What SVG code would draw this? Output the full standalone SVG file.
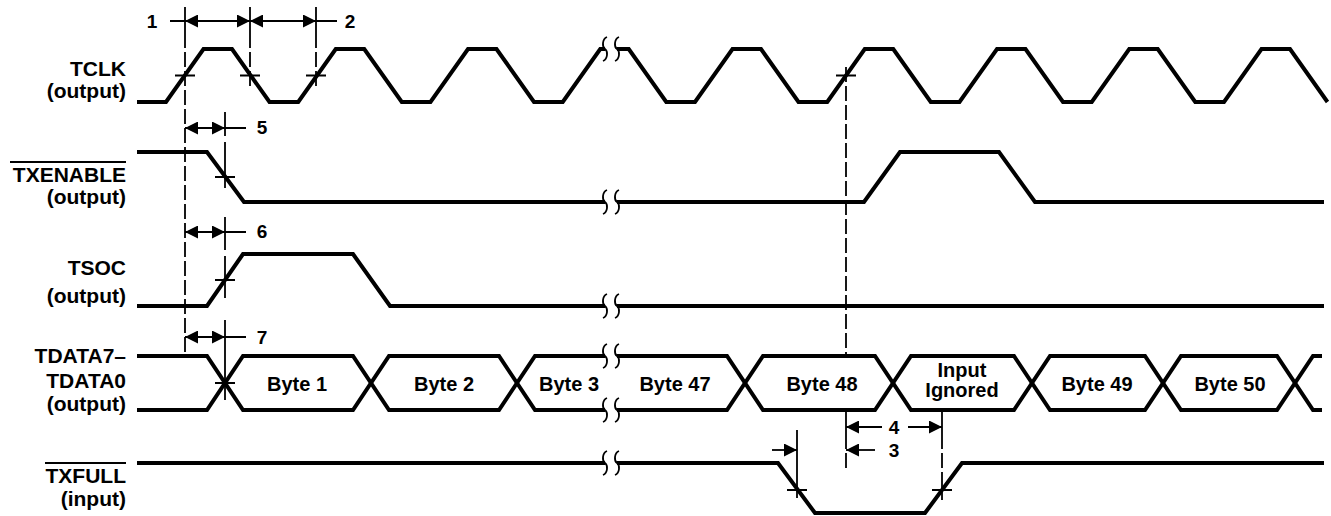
<svg xmlns="http://www.w3.org/2000/svg" width="1331" height="516" viewBox="0 0 1331 516">
<style>
.sig{fill:none;stroke:#000;stroke-width:4;stroke-linejoin:miter}
.ol{stroke:#000;stroke-width:2}
.thin{fill:none;stroke:#000;stroke-width:1.8}
.dash{fill:none;stroke:#000;stroke-width:1.8;stroke-dasharray:15 4}
.dim{fill:none;stroke:#000;stroke-width:1.8;marker-end:url(#ah)}
.dim2{fill:none;stroke:#000;stroke-width:1.8;marker-start:url(#ah);marker-end:url(#ah)}
.lbl{font-family:"Liberation Sans",Arial,Helvetica,sans-serif;font-weight:bold;font-size:21px;fill:#000}
.r{text-anchor:end}
.c{text-anchor:middle}
.byte{font-size:20px}
.num{font-size:19px}
</style>
<defs>
<marker id="ah" viewBox="0 0 13 13" refX="13" refY="6.5" markerWidth="13" markerHeight="13" markerUnits="userSpaceOnUse" orient="auto-start-reverse"><path d="M0,0L13,6.5L0,13Z" fill="#000"/></marker>
<g id="brk"><rect x="-6" y="-5" width="12" height="10" fill="#fff"/><path d="M-4,-12 C-9,-10 -9,-2 -6,0 C-3,2 -3,10 -8,12 M8,-12 C3,-10 3,-2 6,0 C9,2 9,10 4,12" fill="none" stroke="#000" stroke-width="1.8"/></g>
</defs>
<rect width="1331" height="516" fill="#fff"/>

<g id="tclk">
<text class="lbl r" x="126" y="76">TCLK</text>
<text class="lbl r" x="126" y="98">(output)</text>
<path class="sig" d="M137,102 H166 L203.5,49 H232 L269.5,102 H298.25 L335.75,49 H364.25 L401.75,102 H430.5 L468,49 H496.5 L534,102 H562.75 L600.25,49 H628.75 L666.25,102 H695 L732.5,49 H761 L798.5,102 H827.25 L864.75,49 H893.25 L930.75,102 H959.5 L997,49 H1025.5 L1063,102 H1091.75 L1129.25,49 H1157.75 L1195.25,102 H1224 L1261.5,49 H1290 L1327.5,102"/>
<use href="#brk" x="611" y="49"/>
</g>

<g id="txenable">
<text class="lbl r" x="126" y="182">TXENABLE</text>
<line class="ol" x1="10" y1="162" x2="126" y2="162"/>
<text class="lbl r" x="126" y="204">(output)</text>
<path class="sig" d="M137,152 H207 L244,202 H864 L900,152 H999 L1035,202 H1324"/>
<use href="#brk" x="611" y="202"/>
</g>

<g id="tsoc">
<text class="lbl r" x="126" y="275">TSOC</text>
<text class="lbl r" x="126" y="303">(output)</text>
<path class="sig" d="M137,306 H207 L243,254 H353 L390,306 H1324"/>
<use href="#brk" x="611" y="306"/>
</g>

<g id="tdata">
<text class="lbl r" x="126" y="363">TDATA7–</text>
<text class="lbl r" x="126" y="388">TDATA0</text>
<text class="lbl r" x="126" y="411">(output)</text>
<path class="sig" d="M137,356 H207 L243,410 H353 L389,356 H499 L535,410 H727 L763,356 H875 L911,410 H1014 L1050,356 H1145 L1181,410 H1277 L1313,356 H1322"/>
<path class="sig" d="M137,410 H207 L243,356 H353 L389,410 H499 L535,356 H727 L763,410 H875 L911,356 H1014 L1050,410 H1145 L1181,356 H1277 L1313,410 H1322"/>
<use href="#brk" x="611" y="356"/>
<use href="#brk" x="611" y="410"/>
<text class="lbl byte c" x="297" y="391">Byte 1</text>
<text class="lbl byte c" x="444" y="391">Byte 2</text>
<text class="lbl byte c" x="569" y="391">Byte 3</text>
<text class="lbl byte c" x="675" y="391">Byte 47</text>
<text class="lbl byte c" x="822" y="391">Byte 48</text>
<text class="lbl byte c" x="962" y="377">Input</text>
<text class="lbl byte c" x="962" y="397">Ignored</text>
<text class="lbl byte c" x="1097" y="391">Byte 49</text>
<text class="lbl byte c" x="1230" y="391">Byte 50</text>
</g>

<g id="txfull">
<text class="lbl r" x="126" y="483">TXFULL</text>
<line class="ol" x1="45" y1="463" x2="126" y2="463"/>
<text class="lbl r" x="126" y="506">(input)</text>
<path class="sig" d="M137,463 H778 L815,513 H925 L962,463 H1324"/>
<use href="#brk" x="611" y="463"/>
</g>

<g id="connectors">
<path class="thin" d="M185,7 V33 M250,7 V33 M316,7 V33"/>
<path class="dash" d="M185,33 V355 M250,33 V90 M316,33 V90"/>
<path class="thin" d="M225,112 V136 M225,142 V188 M225,217 V250 M225,256 V298 M225,320 V400"/>
<path class="dash" d="M846,67 V356 M846,434 V470 M942,434 V478"/>
<path class="thin" d="M846,410 V434 M942,411 V434 M942,478 V500 M797,430 V498"/>
<path class="thin" d="M175,75.5 H195 M240,75.5 H260 M306,75.5 H326 M836,75.5 H856 M215,177 H235 M215,280 H235 M215,383 H235 M787,490 H807 M932,490 H952"/>
<path class="thin" d="M170,21 H185 M316,21 H337 M225,128 H246 M225,232 H246 M225,337 H246"/>
<path class="dim2" d="M185,21 H250"/>
<path class="dim2" d="M250,21 H316"/>
<path class="dim2" d="M185,128 H225"/>
<path class="dim2" d="M185,232 H225"/>
<path class="dim2" d="M185,337 H225"/>
<path class="dim" d="M882,427 H846"/>
<path class="dim" d="M908,427 H942"/>
<path class="dim" d="M875,450 H846"/>
<path class="dim" d="M772,450 H797"/>
<text class="lbl num c" x="152" y="28">1</text>
<text class="lbl num c" x="350" y="28">2</text>
<text class="lbl num c" x="262" y="134">5</text>
<text class="lbl num c" x="262" y="238">6</text>
<text class="lbl num c" x="262" y="344">7</text>
<text class="lbl num c" x="894" y="434">4</text>
<text class="lbl num c" x="894" y="457">3</text>
</g>
</svg>
